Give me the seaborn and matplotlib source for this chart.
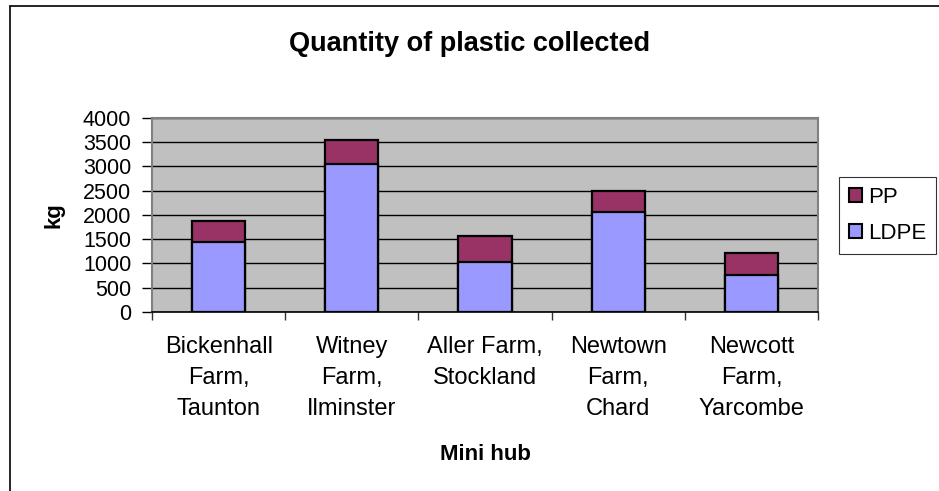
import matplotlib
matplotlib.use("Agg")
import matplotlib.pyplot as plt
import matplotlib.patches as mpatches
import matplotlib.lines as mlines
from matplotlib.ticker import FixedLocator
import seaborn as sns
import pandas as pd

hubs = ["Bickenhall\nFarm,\nTaunton", "Witney\nFarm,\nIlminster", "Aller Farm,\nStockland",
        "Newtown\nFarm,\nChard", "Newcott\nFarm,\nYarcombe"]
ldpe = [1440, 3050, 1030, 2070, 760]
pp = [440, 500, 530, 420, 450]
yticks = [0, 500, 1000, 1500, 2000, 2500, 3000, 3500, 4000]

pp_color = "#993366"
ldpe_color = "#9999FF"

df = pd.DataFrame({"hub": hubs, "LDPE": ldpe, "PP": pp})
df["total"] = df["LDPE"] + df["PP"]

sns.set_theme(style="white")
plt.rcParams["font.family"] = ["Liberation Sans", "DejaVu Sans"]
plt.rcParams.update({"text.color": "black", "axes.labelcolor": "black",
                     "xtick.color": "black", "ytick.color": "black"})

fig = plt.figure(figsize=(9.39, 4.91), dpi=100)
ax = fig.add_axes([0.1619, 0.3646, 0.7093, 0.3951])
ax.set_facecolor("#C0C0C0")

# stacked bars: full height in PP colour, LDPE portion drawn over it
sns.barplot(data=df, x="hub", y="total", color=pp_color, width=0.4, saturation=1,
            edgecolor="black", linewidth=1.6, ax=ax, zorder=3)
sns.barplot(data=df, x="hub", y="LDPE", color=ldpe_color, width=0.4, saturation=1,
            edgecolor="black", linewidth=1.6, ax=ax, zorder=4)

ax.set_ylim(0, 4000)
ax.set_xlim(-0.5, len(hubs) - 0.5)
ax.set_yticks(yticks)
ax.set_yticklabels([str(v) for v in yticks], fontsize=15.5)
ax.yaxis.grid(True, color="black", linewidth=1.0, zorder=0)
ax.set_axisbelow(True)

ax.tick_params(axis="y", direction="out", length=7, width=1, color="black", pad=8, left=True)
ax.tick_params(axis="x", which="major", length=0, pad=17, labelsize=17)
ax.xaxis.set_minor_locator(FixedLocator([i - 0.5 for i in range(len(hubs) + 1)]))
ax.tick_params(axis="x", which="minor", direction="out", length=6, width=1, color="#333333", bottom=True)

for side in ["top", "right", "left"]:
    ax.spines[side].set_color("#808080")
    ax.spines[side].set_linewidth(1.5)
ax.spines["bottom"].set_color("black")
ax.spines["bottom"].set_linewidth(1.2)

ax.set_xlabel("Mini hub", fontsize=16, fontweight="bold", labelpad=17)
ax.set_ylabel("kg", fontsize=16, fontweight="bold", labelpad=13)
fig.suptitle("Quantity of plastic collected", fontsize=19.5, fontweight="bold",
             x=0.5, y=0.937, va="top")

handles = [mpatches.Patch(facecolor=pp_color, edgecolor="black", linewidth=1.5, label="PP"),
           mpatches.Patch(facecolor=ldpe_color, edgecolor="black", linewidth=1.5, label="LDPE")]
leg = fig.legend(handles=handles, loc="upper left", bbox_to_anchor=(0.8938, 0.6389),
                 fontsize=16, frameon=True, fancybox=False, handlelength=0.6, handleheight=0.6,
                 handletextpad=0.3, borderpad=0.42, labelspacing=0.7, borderaxespad=0)
leg.get_frame().set_edgecolor("black")
leg.get_frame().set_linewidth(0.8)

# outer chart frame (left and top edges lie inside the canvas)
fig.add_artist(mlines.Line2D([0.0105, 0.0105], [0.0, 0.988], transform=fig.transFigure,
                             color="black", linewidth=1.2))
fig.add_artist(mlines.Line2D([0.0105, 1.0], [0.988, 0.988], transform=fig.transFigure,
                             color="black", linewidth=1.2))

# spread the stacked lines of each hub name
fig.canvas.draw()
for lbl in ax.get_xticklabels():
    lbl.set_linespacing(1.55)

fig.savefig("out.png", dpi=100)
